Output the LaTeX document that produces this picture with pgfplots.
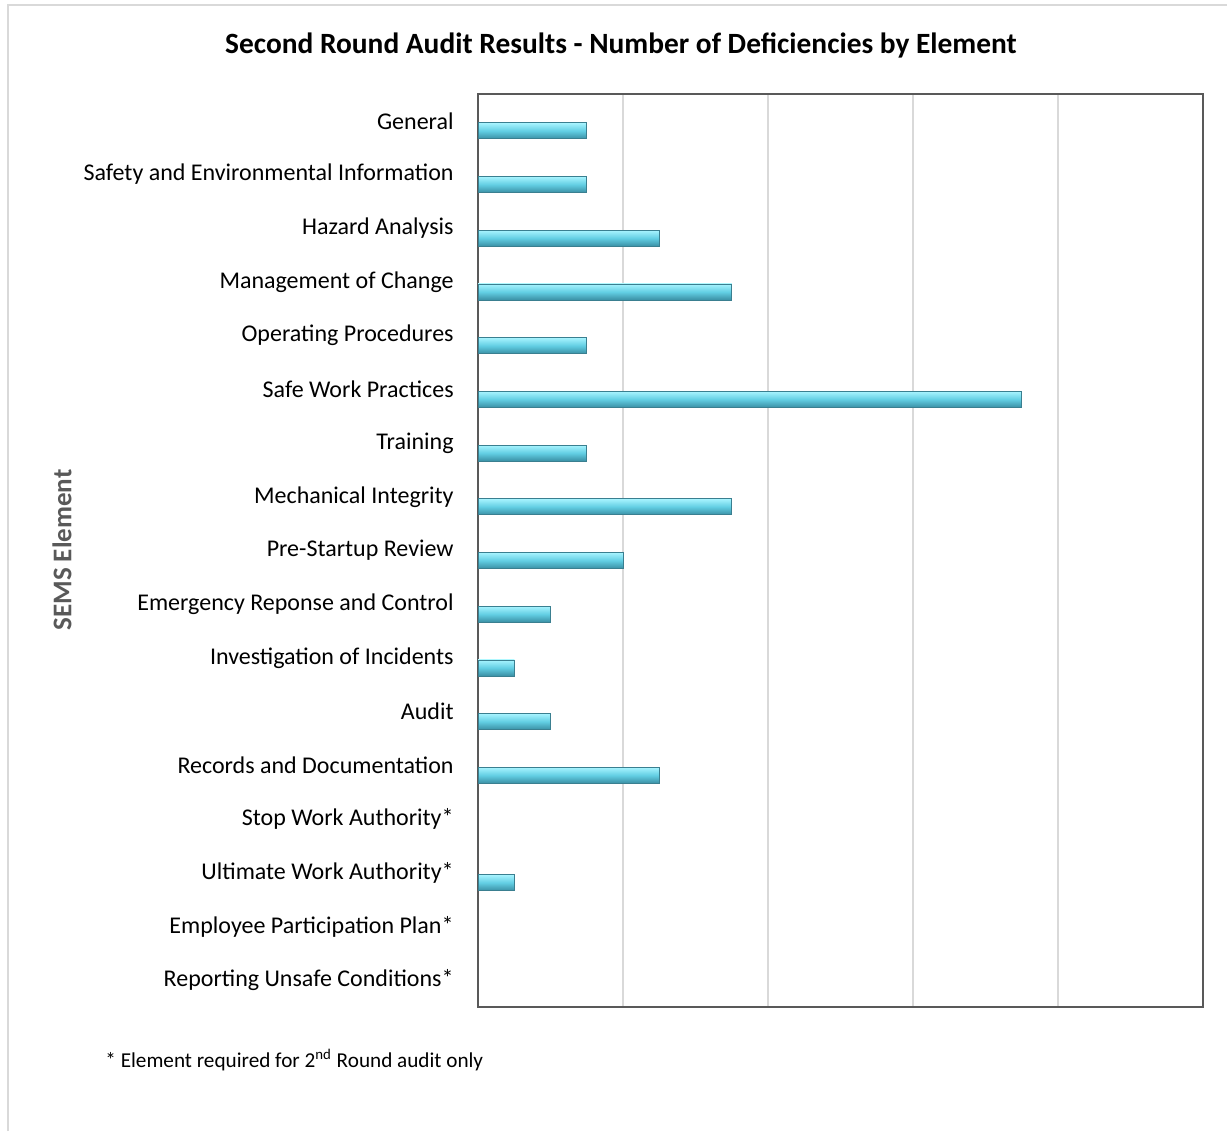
\documentclass[border=0pt]{standalone}
\usepackage{pgfplots}
\pgfplotsset{compat=1.18}
\usepackage{fontspec}
\setmainfont{Carlito}
\definecolor{barTop}{HTML}{A8F4FF}
\definecolor{barMid}{HTML}{62CEE3}
\definecolor{barBot}{HTML}{3A8FA4}
\definecolor{barEdge}{HTML}{3A7F90}
\definecolor{gridc}{HTML}{D9D9D9}
\definecolor{framec}{HTML}{D9D9D9}
\definecolor{axc}{HTML}{595959}
\pgfplotsset{bevel/.style={draw=barEdge, line width=0.4pt, top color=barTop, bottom color=barBot, middle color=barMid}}
\begin{document}
\begin{tikzpicture}[x=0.5pt,y=0.5pt]
\useasboundingbox (0,0) rectangle (1227,1131);
\draw[framec, line width=1.2pt] (8,0) -- (8,1126) -- (1227,1126);
\node[font=\bfseries\fontsize{14.7}{17}\selectfont] at (621,1086) {Second Round Audit Results - Number of Deficiencies by Element};
\node[rotate=90, font=\bfseries\fontsize{13.5}{16}\selectfont, text=axc] at (62,581) {SEMS Element};
\node[anchor=base west, font=\fontsize{10.6}{12}\selectfont, inner sep=0pt] at (105,64) {* Element required for 2\textsuperscript{nd} Round audit only};
\begin{axis}[at={(239pt,62pt)}, anchor=south west, scale only axis,
  width=362.5pt, height=456.5pt,
  xbar, bar width=8pt, bar shift=-5pt,
  xmin=0, xmax=20, ymin=-0.5, ymax=16.5,
  xtick={4,8,12,16}, xticklabels={},
  xmajorgrids, grid style={gridc, line width=0.8pt},
  ytick={0,...,16},
  yticklabels={Reporting Unsafe Conditions*, Employee Participation Plan*, Ultimate Work Authority*, Stop Work Authority*, Records and Documentation, Audit, Investigation of Incidents, Emergency Reponse and Control, Pre-Startup Review, Mechanical Integrity, Training, Safe Work Practices, Operating Procedures, Management of Change, Hazard Analysis, Safety and Environmental Information, General},
  major tick length=0pt,
  yticklabel style={font=\fontsize{12}{14}\selectfont, inner sep=0pt, xshift=-12pt},
  axis line style={axc, line width=0.8pt},
  clip=false]
\addplot[bevel] coordinates {(3,16)};
\addplot[bevel] coordinates {(3,15)};
\addplot[bevel] coordinates {(5,14)};
\addplot[bevel] coordinates {(7,13)};
\addplot[bevel] coordinates {(3,12)};
\addplot[bevel] coordinates {(15,11)};
\addplot[bevel] coordinates {(3,10)};
\addplot[bevel] coordinates {(7,9)};
\addplot[bevel] coordinates {(4,8)};
\addplot[bevel] coordinates {(2,7)};
\addplot[bevel] coordinates {(1,6)};
\addplot[bevel] coordinates {(2,5)};
\addplot[bevel] coordinates {(5,4)};
\addplot[bevel] coordinates {(1,2)};
\end{axis}
\end{tikzpicture}
\end{document}
